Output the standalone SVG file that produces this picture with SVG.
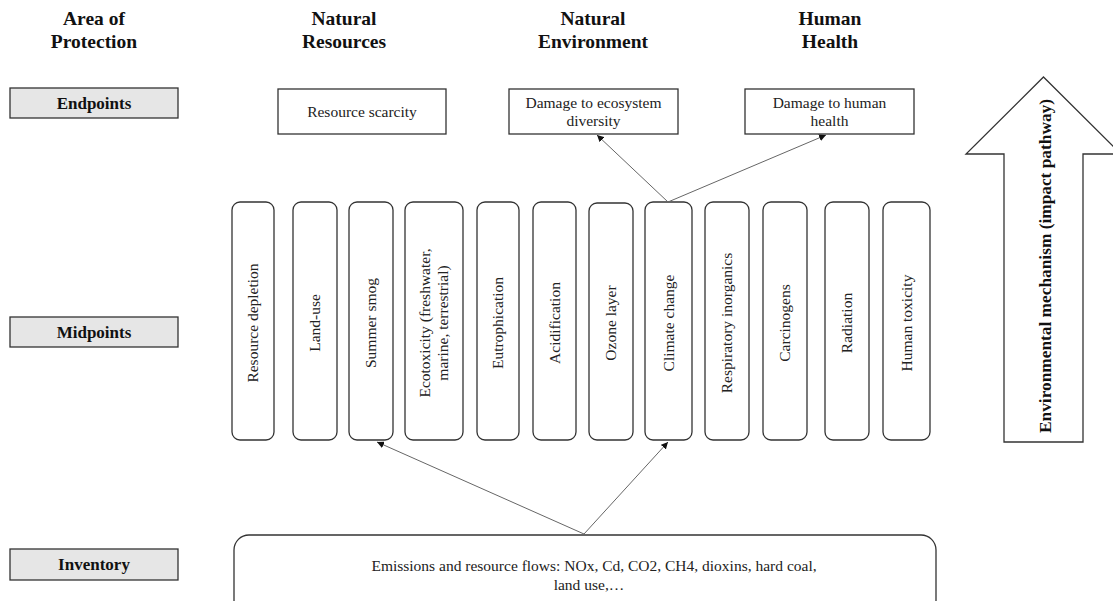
<svg xmlns="http://www.w3.org/2000/svg" width="1113" height="601" viewBox="0 0 1113 601">
<defs>
<marker id="ah" viewBox="0 0 10 10" refX="10" refY="5" markerWidth="7" markerHeight="7" orient="auto" markerUnits="userSpaceOnUse">
<path d="M0,0 L10,5 L0,10 z" fill="#111"/>
</marker>
<style>
.hd{font-family:"Liberation Serif",serif;font-weight:bold;font-size:19.5px;fill:#111;text-anchor:middle}
.lb{fill:#e6e6e6;stroke:#333;stroke-width:1.3}
.lt{font-family:"Liberation Serif",serif;font-weight:bold;font-size:17px;fill:#111;text-anchor:middle}
.bx{fill:#fff;stroke:#333;stroke-width:1.3}
.t{font-family:"Liberation Serif",serif;font-size:15.5px;fill:#222;text-anchor:middle}
.mp{fill:#fff;stroke:#333;stroke-width:1.3}
.cn{stroke:#666;stroke-width:1;fill:none;marker-end:url(#ah)}
</style>
</defs>
<rect width="1113" height="601" fill="#fff"/>
<g id="headings">
<text class="hd" x="94" y="25">Area of</text>
<text class="hd" x="94" y="48">Protection</text>
<text class="hd" x="344" y="25">Natural</text>
<text class="hd" x="344" y="48">Resources</text>
<text class="hd" x="593" y="25">Natural</text>
<text class="hd" x="593" y="48">Environment</text>
<text class="hd" x="830" y="25">Human</text>
<text class="hd" x="830" y="48">Health</text>
</g>
<g id="label-endpoints"><rect class="lb" x="10" y="88" width="168" height="30"/><text class="lt" x="94" y="109">Endpoints</text></g>
<g id="label-midpoints"><rect class="lb" x="10" y="317" width="168" height="30"/><text class="lt" x="94" y="338">Midpoints</text></g>
<g id="label-inventory"><rect class="lb" x="10" y="549" width="168" height="31"/><text class="lt" x="94" y="570">Inventory</text></g>
<g id="ep-resource"><rect class="bx" x="278" y="89" width="168" height="45"/><text class="t" x="362" y="117">Resource scarcity</text></g>
<g id="ep-ecosystem"><rect class="bx" x="509" y="89" width="169" height="45"/><text class="t" x="593.5" y="108">Damage to ecosystem</text><text class="t" x="593.5" y="126">diversity</text></g>
<g id="ep-human"><rect class="bx" x="745" y="89" width="169" height="45"/><text class="t" x="829.5" y="108">Damage to human</text><text class="t" x="829.5" y="126">health</text></g>
<g id="mp-resource-depletion"><rect class="mp" x="232" y="202" width="42" height="238" rx="8"/><text class="t" transform="translate(253,323) rotate(-90)" dy="0.35em">Resource depletion</text></g>
<g id="mp-land-use"><rect class="mp" x="293" y="202" width="44" height="238" rx="8"/><text class="t" transform="translate(315,323) rotate(-90)" dy="0.35em">Land-use</text></g>
<g id="mp-summer-smog"><rect class="mp" x="349" y="202" width="44" height="238" rx="8"/><text class="t" transform="translate(371,323) rotate(-90)" dy="0.35em">Summer smog</text></g>
<g id="mp-ecotoxicity"><rect class="mp" x="405" y="202" width="58" height="238" rx="8"/><text class="t" transform="translate(425,323) rotate(-90)" dy="0.35em">Ecotoxicity (freshwater,</text><text class="t" transform="translate(443,323) rotate(-90)" dy="0.35em">marine, terrestrial)</text></g>
<g id="mp-eutrophication"><rect class="mp" x="477" y="202" width="42" height="238" rx="8"/><text class="t" transform="translate(498,323) rotate(-90)" dy="0.35em">Eutrophication</text></g>
<g id="mp-acidification"><rect class="mp" x="533" y="202" width="43" height="238" rx="8"/><text class="t" transform="translate(554.5,323) rotate(-90)" dy="0.35em">Acidification</text></g>
<g id="mp-ozone"><rect class="mp" x="589" y="203" width="44" height="237" rx="8"/><text class="t" transform="translate(611,323) rotate(-90)" dy="0.35em">Ozone layer</text></g>
<g id="mp-climate"><rect class="mp" x="645" y="202" width="47" height="238" rx="8"/><text class="t" transform="translate(668.5,323) rotate(-90)" dy="0.35em">Climate change</text></g>
<g id="mp-respiratory"><rect class="mp" x="705" y="202" width="44" height="238" rx="8"/><text class="t" transform="translate(727,323) rotate(-90)" dy="0.35em">Respiratory inorganics</text></g>
<g id="mp-carcinogens"><rect class="mp" x="763" y="202" width="44" height="238" rx="8"/><text class="t" transform="translate(785,323) rotate(-90)" dy="0.35em">Carcinogens</text></g>
<g id="mp-radiation"><rect class="mp" x="825" y="202" width="44" height="238" rx="8"/><text class="t" transform="translate(847,323) rotate(-90)" dy="0.35em">Radiation</text></g>
<g id="mp-human-toxicity"><rect class="mp" x="883" y="202" width="47" height="238" rx="8"/><text class="t" transform="translate(906.5,323) rotate(-90)" dy="0.35em">Human toxicity</text></g>
<g id="inventory"><rect class="mp" x="234" y="535" width="702" height="80" rx="15"/><text class="t" x="594" y="571">Emissions and resource flows: NOx, Cd, CO2, CH4, dioxins, hard coal,</text><text class="t" x="589" y="590">land use,…</text></g>
<g id="mechanism-arrow">
<polygon points="1043.5,77 1121,154 1083,154 1083,442 1004,442 1004,154 966,154" fill="#fff" stroke="#333" stroke-width="1.3"/>
<text transform="translate(1045,266) rotate(-90)" dy="0.35em" font-family="Liberation Serif, serif" font-weight="bold" font-size="17" fill="#111" text-anchor="middle" textLength="334" lengthAdjust="spacingAndGlyphs">Environmental mechanism (impact pathway)</text>
</g>
<g id="connectors">
<line class="cn" x1="584" y1="534" x2="377" y2="442"/>
<line class="cn" x1="584" y1="534" x2="668" y2="442"/>
<line class="cn" x1="668" y1="202" x2="597" y2="135"/>
<line class="cn" x1="668" y1="202" x2="826" y2="135"/>
</g>
</svg>
